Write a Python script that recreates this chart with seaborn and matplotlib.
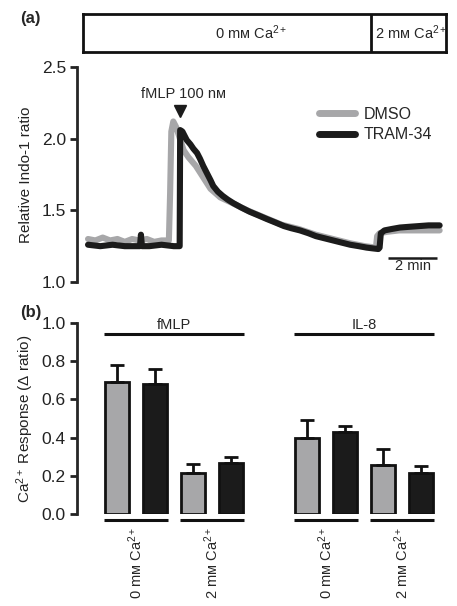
import numpy as np
import pandas as pd
import matplotlib
matplotlib.use("Agg")
import matplotlib.pyplot as plt
import seaborn as sns
from matplotlib.lines import Line2D

# ---------------- data: panel (a) traces (time in min, Indo-1 ratio) ----------------
tram_t = [0.0, 0.5, 1.0, 1.5, 2.0, 2.12, 2.16, 2.2, 2.5, 3.0, 3.5, 3.74,
          3.76, 3.85, 4.03, 4.18, 4.3, 4.45, 4.57, 4.7, 4.85, 5.0, 5.11, 5.3,
          5.5, 5.7, 5.93, 6.25, 6.6, 6.95, 7.29, 7.65, 8.0, 8.3, 8.65, 9.0,
          9.3, 9.65, 10.0, 10.35, 10.7, 11.05, 11.37, 11.6, 11.85, 11.9, 11.95,
          12.1, 12.4, 12.73, 13.1, 13.5, 13.9, 14.35]
tram_v = [1.26, 1.25, 1.26, 1.25, 1.25, 1.25, 1.33, 1.25, 1.25, 1.26, 1.25, 1.25,
          2.06, 2.05, 1.99, 1.96, 1.93, 1.90, 1.86, 1.81, 1.76, 1.71, 1.67, 1.63,
          1.60, 1.575, 1.55, 1.52, 1.49, 1.465, 1.44, 1.415, 1.39, 1.375, 1.36, 1.34,
          1.32, 1.305, 1.29, 1.275, 1.26, 1.25, 1.24, 1.235, 1.23, 1.24, 1.34,
          1.36, 1.37, 1.38, 1.385, 1.39, 1.395, 1.395]

dmso_t = [0.0, 0.3, 0.6, 0.9, 1.2, 1.5, 1.8, 2.1, 2.4, 2.7, 3.0, 3.3, 3.35,
          3.4, 3.48, 3.6, 3.75, 3.9, 4.1, 4.4, 4.7, 5.0, 5.4, 5.9, 6.5, 7.2,
          7.9, 8.6, 9.3, 10.0, 10.7, 11.3, 11.75, 11.8, 11.9, 12.2, 12.7,
          13.5, 14.35]
dmso_v = [1.30, 1.29, 1.31, 1.29, 1.30, 1.28, 1.30, 1.29, 1.30, 1.28, 1.29, 1.29, 1.62,
          2.05, 2.12, 2.08, 2.00, 1.92, 1.87, 1.81, 1.73, 1.65, 1.59, 1.55, 1.50, 1.45,
          1.40, 1.37, 1.33, 1.30, 1.27, 1.25, 1.24, 1.32, 1.34, 1.35, 1.36,
          1.36, 1.36]

# ---------------- data: panel (b) bars ----------------
stimulus = ["fMLP", "fMLP", "fMLP", "fMLP", "IL-8", "IL-8", "IL-8", "IL-8"]
calcium = ["0", "0", "2", "2", "0", "0", "2", "2"]
treatment = ["DMSO", "TRAM-34"] * 4
means = [0.69, 0.68, 0.215, 0.265, 0.40, 0.43, 0.255, 0.215]
sems = [0.09, 0.08, 0.045, 0.035, 0.09, 0.03, 0.085, 0.035]

GRAY = "#a7a7a9"
BLACK = "#1b1b1b"

sns.set_style("ticks")
plt.rcParams["font.family"] = ["Liberation Sans", "DejaVu Sans"]
plt.rcParams["mathtext.fontset"] = "custom"
plt.rcParams["mathtext.rm"] = "Liberation Sans"
plt.rcParams["mathtext.it"] = "Liberation Sans:italic"
plt.rcParams["mathtext.bf"] = "Liberation Sans:bold"

W, H = 457, 606
fig = plt.figure(figsize=(W / 100, H / 100), dpi=100)


def rect(x0, y0, x1, y1):
    # pixel box -> figure fraction
    return [x0 / W, 1 - y1 / H, (x1 - x0) / W, (y1 - y0) / H]


def style_left(ax):
    for s in ["top", "right", "bottom"]:
        ax.spines[s].set_visible(False)
    ax.spines["left"].set_linewidth(2)
    ax.tick_params(axis="y", direction="out", length=5, width=2, pad=3,
                   labelsize=12.5, colors="#222222")
    ax.tick_params(axis="x", bottom=False, labelbottom=False)
    ax.set_xlabel("")


# ---------------- condition box ----------------
axbox = fig.add_axes(rect(83, 14, 446, 52))
axbox.set_xlim(0, 1)
axbox.set_ylim(0, 1)
axbox.set_xticks([])
axbox.set_yticks([])
for s in axbox.spines.values():
    s.set_linewidth(2)
    s.set_color("#111111")
divider = (371 - 83) / (446 - 83)
axbox.axvline(divider, color="#111111", lw=2)
axbox.text(0.462, 0.5, "0 m\u1d0d Ca$^{2+}$", ha="center", va="center", fontsize=10.5)
axbox.text(divider + 0.012, 0.5, "2 m\u1d0d Ca$^{2+}$", ha="left", va="center", fontsize=10.5)
fig.text(20 / W, 1 - 18 / H, "(a)", fontsize=12, fontweight="bold", va="center")

# ---------------- panel (a) ----------------
axa = fig.add_axes(rect(77, 67, 446, 282))
traces = pd.concat([
    pd.DataFrame({"t": dmso_t, "ratio": dmso_v, "group": "DMSO"}),
    pd.DataFrame({"t": tram_t, "ratio": tram_v, "group": "TRAM-34"}),
])
sns.lineplot(data=traces, x="t", y="ratio", hue="group",
             palette={"DMSO": GRAY, "TRAM-34": BLACK}, estimator=None,
             sort=False, linewidth=4.4, legend=False, ax=axa)
for ln in axa.lines:
    ln.set_solid_joinstyle("round")
    ln.set_solid_capstyle("round")
axa.set_xlim(-0.45, 14.61)
axa.set_ylim(1.0, 2.5)
axa.set_yticks([1.0, 1.5, 2.0, 2.5])
axa.set_ylabel("Relative Indo-1 ratio", fontsize=11, labelpad=6, color="#222222")
style_left(axa)

# stimulus marker
axa.plot([3.75], [2.19], marker="v", markersize=8, color=BLACK, clip_on=False)
axa.text(3.88, 2.31, "fMLP 100 n\u1d0d", ha="center", va="center", fontsize=10.5)

# scale bar
axa.plot([12.25, 14.25], [1.17, 1.17], color=BLACK, lw=1.8, solid_capstyle="butt")
axa.text(13.25, 1.11, "2 min", ha="center", va="center", fontsize=10.5)

handles = [Line2D([], [], color=GRAY, lw=5), Line2D([], [], color=BLACK, lw=5)]
axa.legend(handles, ["DMSO", "TRAM-34"], loc="upper left",
           bbox_to_anchor=(0.655, 0.815), frameon=False, fontsize=11.5,
           handlelength=2.3, handletextpad=0.5, labelspacing=0.35,
           borderaxespad=0, borderpad=0)

# ---------------- panel (b) ----------------
axb = fig.add_axes(rect(77, 323, 446, 514))
slots = [f"{s} {c} {t}" for s, c, t in zip(stimulus, calcium, treatment)]
order = slots[:4] + [""] + slots[4:]
bars = pd.DataFrame({"slot": slots, "resp": means, "treatment": treatment})
sns.barplot(data=bars, x="slot", y="resp", hue="treatment", order=order,
            palette={"DMSO": GRAY, "TRAM-34": BLACK}, dodge=False, width=0.63,
            edgecolor="#111111", linewidth=2, errorbar=None, legend=False, ax=axb)
xpos = np.array([order.index(s) for s in slots])
axb.errorbar(xpos, means, yerr=[np.zeros(len(means)), sems], fmt="none",
             ecolor="#111111", elinewidth=2, capsize=4.8, capthick=2, zorder=1)
axb.set_xlim(-1.05, 8.66)
axb.set_ylim(0, 1.0)
axb.set_yticks(np.arange(0, 1.01, 0.2))
axb.set_yticklabels([f"{v:.1f}" for v in np.arange(0, 1.01, 0.2)])
axb.set_ylabel("Ca$^{2+}$ Response (\u0394 ratio)", fontsize=11, labelpad=4,
               color="#222222")
style_left(axb)

half = 0.63 / 2 + 0.03
# stimulus lines above
for stim in ["fMLP", "IL-8"]:
    px = xpos[[i for i, s in enumerate(stimulus) if s == stim]]
    axb.plot([px.min() - half, px.max() + half], [0.94, 0.94], color="#111111",
             lw=2.2, clip_on=False, solid_capstyle="butt")
    axb.text(px.mean(), 0.955, stim, ha="center", va="bottom", fontsize=10.5)
# calcium lines and labels below
for stim in ["fMLP", "IL-8"]:
    for ca in ["0", "2"]:
        px = xpos[[i for i in range(len(slots))
                   if stimulus[i] == stim and calcium[i] == ca]]
        axb.plot([px.min() - half, px.max() + half], [-0.03, -0.03],
                 color="#111111", lw=2.2, clip_on=False, solid_capstyle="butt")
        axb.text(px.mean(), -0.065, f"{ca} m\u1d0d Ca$^{{2+}}$", rotation=90,
                 ha="center", va="top", fontsize=10.5)
fig.text(20 / W, 1 - 312 / H, "(b)", fontsize=12, fontweight="bold", va="center")

fig.savefig("out.png", dpi=100)
